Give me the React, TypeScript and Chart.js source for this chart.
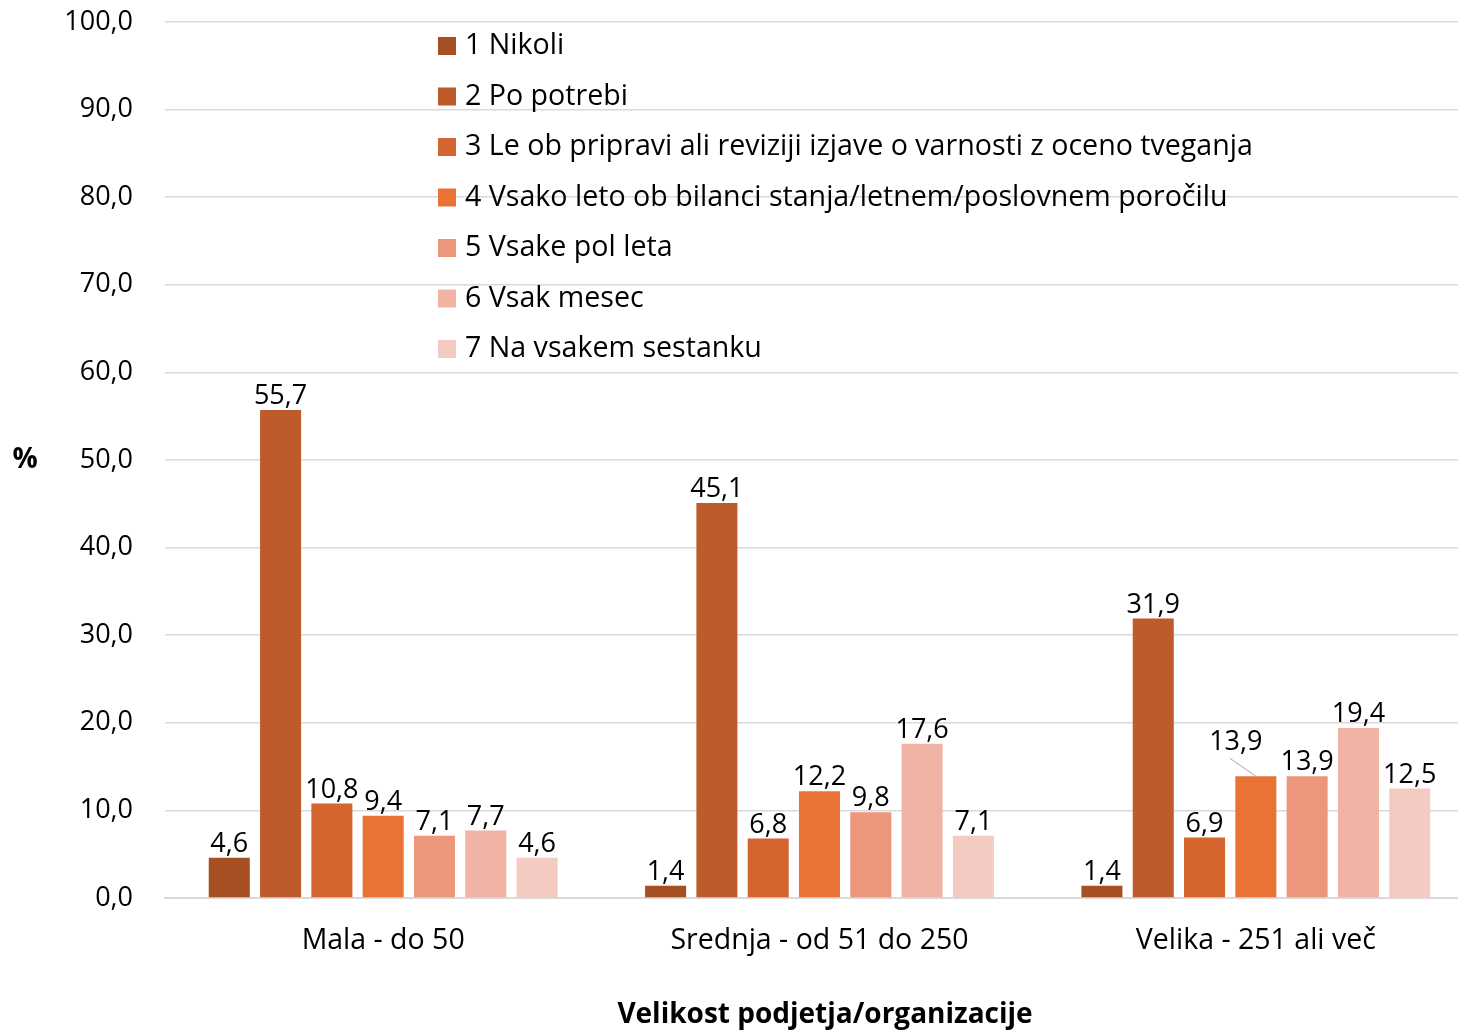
import React, { useEffect, useRef } from "react";
import { Chart, registerables } from "chart.js";

Chart.register(...registerables);

const categories = ["Mala - do 50", "Srednja - od 51 do 250", "Velika - 251 ali več"];
const seriesLabels = [
  "1 Nikoli",
  "2 Po potrebi",
  "3 Le ob pripravi ali reviziji izjave o varnosti z oceno tveganja",
  "4 Vsako leto ob bilanci stanja/letnem/poslovnem poročilu",
  "5 Vsake pol leta",
  "6 Vsak mesec",
  "7 Na vsakem sestanku",
];
const s1 = [4.6, 1.4, 1.4];
const s2 = [55.7, 45.1, 31.9];
const s3 = [10.8, 6.8, 6.9];
const s4 = [9.4, 12.2, 13.9];
const s5 = [7.1, 9.8, 13.9];
const s6 = [7.7, 17.6, 19.4];
const s7 = [4.6, 7.1, 12.5];
const seriesValues = [s1, s2, s3, s4, s5, s6, s7];
const colors = ["#A64F22", "#BE5B2A", "#D4652E", "#E87335", "#EC967C", "#F0B3A4", "#F4CBC2"];
const yTitle = "%";
const xTitle = "Velikost podjetja/organizacije";

const FONT = "'Open Sans', Lato, sans-serif";
const fmt = (v: number) => v.toFixed(1).replace(".", ",");

const overlayPlugin = {
  id: "overlay",
  afterDatasetsDraw(chart: any) {
    const ctx = chart.ctx;
    ctx.save();
    // data labels
    ctx.font = `27px ${FONT}`;
    ctx.fillStyle = "#000";
    ctx.textAlign = "center";
    ctx.textBaseline = "bottom";
    chart.data.datasets.forEach((ds: any, di: number) => {
      const meta = chart.getDatasetMeta(di);
      meta.data.forEach((bar: any, i: number) => {
        const v = ds.data[i];
        let x = bar.x;
        let y = bar.y;
        if (di === 3 && i === 2) {
          // shifted label with leader line
          const lx = x - 20;
          const ly = y - 20;
          ctx.strokeStyle = "#a6a6a6";
          ctx.lineWidth = 1;
          ctx.beginPath();
          ctx.moveTo(lx - 6, ly + 2);
          ctx.lineTo(x, bar.y);
          ctx.stroke();
          x = lx;
          y = ly;
        }
        ctx.fillText(fmt(v), x, y);
      });
    });
    // legend
    ctx.textAlign = "left";
    ctx.textBaseline = "middle";
    ctx.font = `28.6px ${FONT}`;
    const lx = 438;
    const ly0 = 46;
    const step = 50.5;
    chart.data.datasets.forEach((ds: any, di: number) => {
      const y = ly0 + di * step;
      ctx.fillStyle = ds.backgroundColor;
      ctx.fillRect(lx, y - 9, 18, 18);
      ctx.fillStyle = "#000";
      ctx.fillText(ds.label, lx + 27, y);
    });
    // axis titles
    ctx.font = `bold 28px ${FONT}`;
    ctx.textAlign = "center";
    ctx.fillText(yTitle, 25, 460);
    ctx.fillText(xTitle, 825, 1015);
    ctx.restore();
  },
};

export default function App() {
  const ref = useRef<HTMLCanvasElement>(null);
  useEffect(() => {
    if (!ref.current) return;
    const chart = new Chart(ref.current, {
      type: "bar",
      data: {
        labels: categories,
        datasets: seriesValues.map((vals, i) => ({
          label: seriesLabels[i],
          data: vals,
          backgroundColor: colors[i],
          borderWidth: 0,
          barPercentage: 0.8,
          categoryPercentage: 0.823,
        })),
      },
      options: {
        animation: false,
        responsive: false,
        maintainAspectRatio: false,
        layout: { padding: { top: 22, right: 0, left: 0, bottom: 0 } },
        plugins: { legend: { display: false }, tooltip: { enabled: false } },
        scales: {
          x: {
            grid: { display: false, drawTicks: false },
            border: { display: true, color: "#d9d9d9", width: 2 },
            ticks: { color: "#000", font: { family: FONT, size: 28.5 }, padding: 26 },
            afterFit(scale: any) {
              scale.height = 134;
              scale.paddingLeft = 0;
              scale.paddingRight = 0;
            },
          },
          y: {
            min: 0,
            max: 100,
            ticks: {
              stepSize: 10,
              color: "#000",
              font: { family: FONT, size: 27 },
              padding: 32,
              callback: (v: any) => fmt(Number(v)),
            },
            grid: { color: "#d9d9d9", lineWidth: 1.5, drawTicks: false },
            border: { display: false },
            afterFit(scale: any) {
              scale.width = 165;
              scale.paddingTop = 0;
              scale.paddingBottom = 0;
            },
          },
        },
      },
      plugins: [overlayPlugin],
    });
    return () => chart.destroy();
  }, []);
  return (
    <div style={{ position: "fixed", left: 0, top: 0, width: 1458, height: 1032, background: "#fff", overflow: "hidden" }}>
      <canvas ref={ref} width={1474} height={1032} style={{ width: 1474, height: 1032, display: "block" }} />
    </div>
  );
}
